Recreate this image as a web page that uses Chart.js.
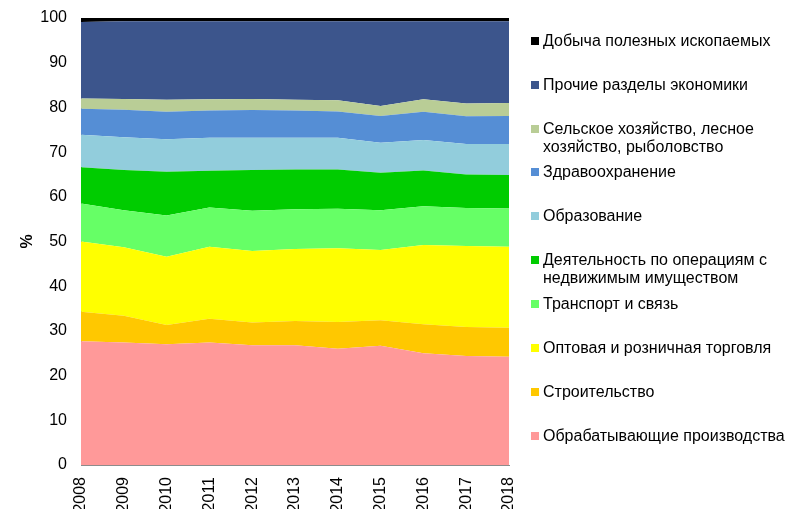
<!DOCTYPE html>
<html><head><meta charset="utf-8">
<script src="https://cdn.jsdelivr.net/npm/chart.js@4"></script>
<style>
html,body{margin:0;padding:0;background:#fff;}
#wrap{position:relative;width:788px;height:509px;overflow:hidden;}
#legend{position:absolute;left:531px;top:0;width:257px;font-family:"Liberation Sans",Arial,sans-serif;font-size:16px;color:#000;white-space:nowrap;}
.item{position:absolute;left:0;display:flex;align-items:flex-start;line-height:18px;}
.sw{width:8px;height:8px;margin-top:5px;margin-right:4px;flex:none;}
</style></head>
<body><div id="wrap"><canvas id="c" width="788" height="509"></canvas><div id="legend"></div></div>
<script>
const years = ['2008','2009','2010','2011','2012','2013','2014','2015','2016','2017','2018'];
const manufacturing = [27.7,27.4,27.0,27.4,26.8,26.8,26.0,26.7,25.0,24.4,24.2];
const construction  = [6.6,6.0,4.3,5.3,5.1,5.4,6.0,5.7,6.5,6.5,6.5];
const trade         = [15.7,15.3,15.3,16.1,16.0,16.1,16.5,15.7,17.7,18.1,18.1];
const transport     = [8.5,8.3,9.2,8.8,9.0,8.9,8.8,8.9,8.7,8.5,8.6];
const realEstate    = [8.1,9.0,9.8,8.2,9.1,8.9,8.8,8.4,8.0,7.5,7.5];
const education     = [7.3,7.3,7.3,7.4,7.2,7.1,7.1,6.7,6.8,6.8,6.9];
const health        = [5.8,6.2,6.1,6.1,6.2,6.1,5.9,6.0,6.3,6.2,6.3];
const agriculture   = [2.3,2.4,2.7,2.5,2.5,2.4,2.5,2.2,2.8,2.9,2.9];
const otherSectors  = [17.1,17.4,17.6,17.5,17.4,17.6,17.7,19.0,17.5,18.4,18.3];
const mining        = [0.9,0.7,0.7,0.7,0.7,0.7,0.7,0.7,0.7,0.7,0.7];
const yTicks = [0,10,20,30,40,50,60,70,80,90,100];

const series = [
  {label:'Обрабатывающие производства', data:manufacturing, color:'#FF9999'},
  {label:'Строительство', data:construction, color:'#FFC800'},
  {label:'Оптовая и розничная торговля', data:trade, color:'#FFFF00'},
  {label:'Транспорт и связь', data:transport, color:'#66FF66'},
  {label:['Деятельность по операциям с','недвижимым имуществом'], data:realEstate, color:'#00CC00'},
  {label:'Образование', data:education, color:'#92CDDC'},
  {label:'Здравоохранение', data:health, color:'#558ED5'},
  {label:['Сельское хозяйство, лесное','хозяйство, рыболовство'], data:agriculture, color:'#B9CD96'},
  {label:'Прочие разделы экономики', data:otherSectors, color:'#3C558C'},
  {label:'Добыча полезных ископаемых', data:mining, color:'#000000'}
];

const datasets = series.map((s,i)=>({
  label: Array.isArray(s.label)? s.label.join(' ') : s.label,
  data: s.data,
  backgroundColor: s.color,
  borderColor: s.color,
  borderWidth: 0,
  pointRadius: 0,
  pointHoverRadius: 0,
  tension: 0,
  fill: i===0 ? 'origin' : '-1'
}));

const font = {family:'"Liberation Sans", Arial, sans-serif', size:16};

new Chart(document.getElementById('c'), {
  type:'line',
  data:{labels:years, datasets},
  options:{
    responsive:false, animation:false,
    layout:{padding:{left:0,right:279,top:18,bottom:0}},
    plugins:{legend:{display:false}, tooltip:{enabled:false}},
    scales:{
      x:{
        offset:false,
        grid:{display:false},
        border:{display:true,color:'#8c8c8c',width:1},
        ticks:{color:'#000',font,minRotation:90,maxRotation:90,padding:4,autoSkip:false},
        afterFit(s){s.height=44;}
      },
      y:{
        stacked:true, min:0, max:100,
        grid:{display:false},
        border:{display:true,color:'#8c8c8c',width:1},
        afterBuildTicks(s){s.ticks=yTicks.map(v=>({value:v}));},
        ticks:{color:'#000',font,padding:6},
        title:{display:true,text:'%',color:'#000',font:{family:font.family,size:16,weight:'bold'},padding:{top:18,bottom:0}},
        afterFit(s){s.width=81;}
      }
    }
  }
});

// HTML legend, reversed order
const legendTops = [32,76,120,163,207,251,295,339,383,427];
const leg = document.getElementById('legend');
series.slice().reverse().forEach((s,i)=>{
  const d=document.createElement('div'); d.className='item'; d.style.top=legendTops[i]+'px';
  const sw=document.createElement('div'); sw.className='sw'; sw.style.background=s.color;
  const t=document.createElement('div');
  t.innerHTML=(Array.isArray(s.label)?s.label:[s.label]).join('<br>');
  d.appendChild(sw); d.appendChild(t); leg.appendChild(d);
});
</script></body></html>
